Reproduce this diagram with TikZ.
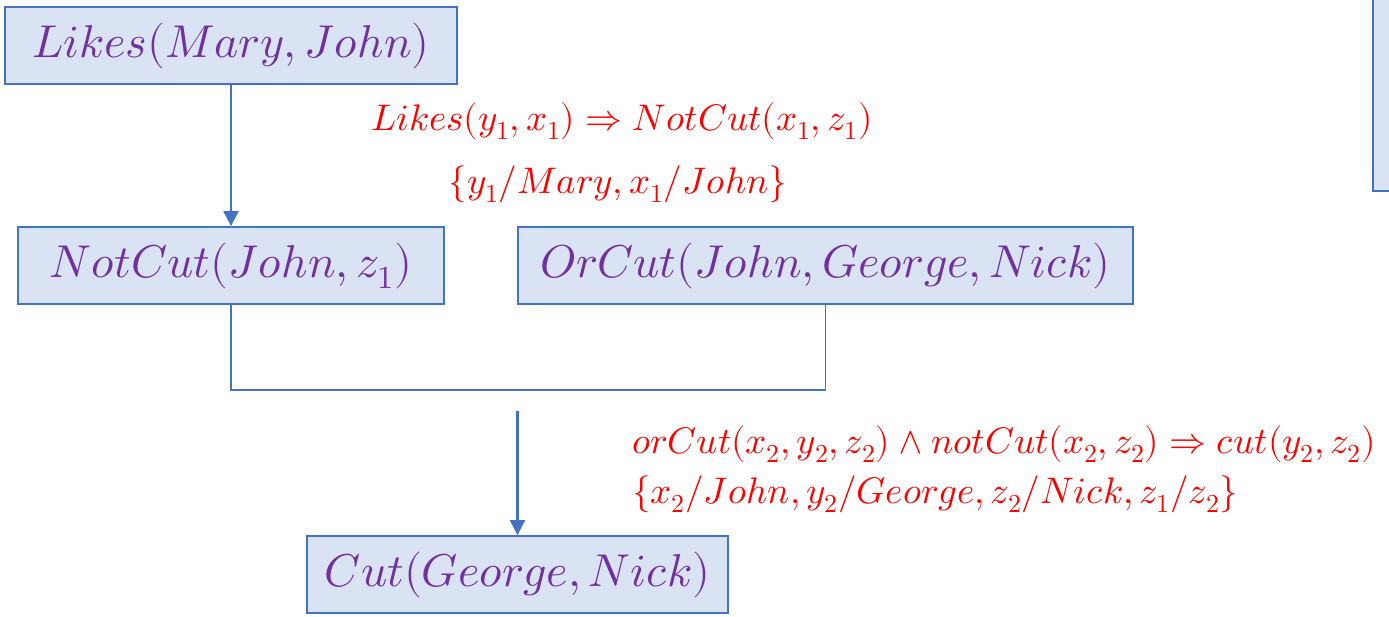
\documentclass[tikz,border=0pt]{standalone}
\usepackage{unicode-math}
\usetikzlibrary{arrows.meta}
\definecolor{boxfill}{HTML}{DAE3F3}
\definecolor{boxline}{HTML}{4472C4}
\definecolor{txtpurple}{HTML}{7030A0}
\definecolor{rulered}{HTML}{FF0000}
\begin{document}
\begin{tikzpicture}[x=1pt,y=-1pt,
  factbox/.style={draw=boxline, fill=boxfill, line width=1.8pt, minimum height=77pt,
    inner sep=0pt, text=txtpurple, font=\fontsize{46}{50}\selectfont},
  rulelabel/.style={text=rulered, inner sep=0pt, font=\fontsize{37}{42}\selectfont},
  link/.style={draw=boxline, line width=2.2pt, -{Triangle[length=15pt,width=15pt]}},
  joinline/.style={draw=boxline, line width=1.3pt}]
\useasboundingbox (0,0) rectangle (1389,616);
\begin{scope}
  \clip (0,0) rectangle (1389,616);
  \node[factbox, minimum width=50pt, minimum height=211pt] (side) at (1398,85.5) {};
\end{scope}
\node[factbox, minimum width=452pt] (likes) at (231,45.5) {$Likes(Mary,John)$};
\node[factbox, minimum width=426pt] (notcut) at (231,265.5) {$NotCut(John,z_1)$};
\node[factbox, minimum width=615pt] (orcut) at (825.5,265.5) {$OrCut(John,George,Nick)$};
\node[factbox, minimum width=421pt] (cut) at (517.5,574.5) {$Cut(George,Nick)$};
\node[rulelabel, anchor=base] (r1) at (622,130) {$Likes(y_1,x_1) \Rightarrow NotCut(x_1,z_1)$};
\node[rulelabel, anchor=base] (r2) at (618,193) {$\{y_1/Mary,x_1/John\}$};
\node[rulelabel, anchor=base west] (r3) at (632,453) {$orCut(x_2,y_2,z_2) \wedge notCut(x_2,z_2) \Rightarrow cut(y_2,z_2)$};
\node[rulelabel, anchor=base west] (r4) at (632,503) {$\{x_2/John,y_2/George,z_2/Nick,z_1/z_2\}$};
\coordinate (jointop) at (517.5,411);
\draw[link] (likes) -- (notcut);
\draw[joinline] (notcut.south) -- ++(0,85) -| (orcut.south);
\draw[link] (jointop) -- (cut.north);
\end{tikzpicture}
\end{document}
